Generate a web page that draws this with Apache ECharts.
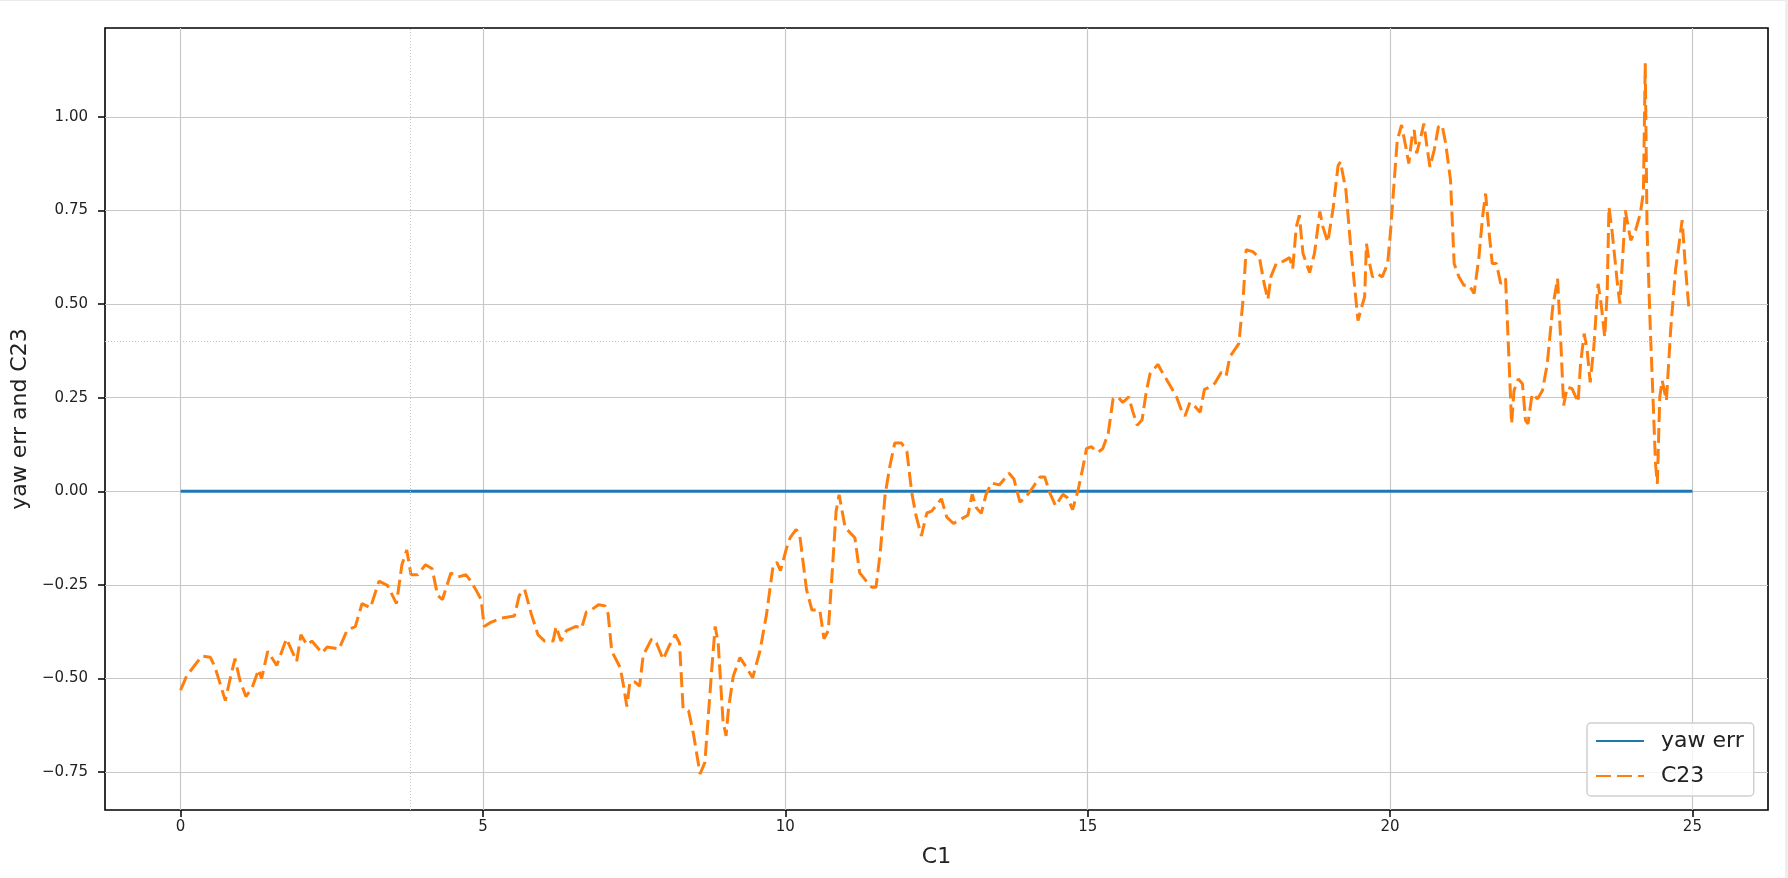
<!DOCTYPE html>
<html>
<head>
<meta charset="utf-8">
<script src="https://cdn.jsdelivr.net/npm/echarts@6/dist/echarts.min.js"></script>
<style>
html,body{margin:0;padding:0;background:#fff;}
#chart{width:1788px;height:878px;}
</style>
</head>
<body>
<div id="chart"></div>
<script>
// ---- data ----
const c23X = [0.00,0.10,0.35,0.49,0.57,0.74,0.82,0.90,0.98,1.08,1.18,1.29,1.34,1.44,1.59,1.75,1.92,1.99,2.09,2.17,2.34,2.42,2.62,2.75,2.89,3.00,3.14,3.28,3.42,3.57,3.66,3.74,3.81,3.92,4.05,4.16,4.25,4.33,4.47,4.58,4.72,4.80,4.88,4.97,5.02,5.13,5.30,5.52,5.60,5.69,5.80,5.91,6.02,6.16,6.21,6.29,6.38,6.54,6.63,6.71,6.79,6.91,7.02,7.07,7.13,7.27,7.32,7.38,7.43,7.51,7.59,7.65,7.79,7.87,7.98,8.07,8.18,8.25,8.31,8.40,8.48,8.59,8.67,8.78,8.84,8.89,8.97,9.02,9.06,9.14,9.25,9.36,9.46,9.58,9.69,9.80,9.86,9.92,10.02,10.08,10.18,10.24,10.35,10.44,10.49,10.57,10.64,10.71,10.77,10.84,10.89,10.99,11.15,11.23,11.34,11.43,11.50,11.57,11.65,11.73,11.81,11.92,12.01,12.09,12.16,12.25,12.34,12.42,12.53,12.58,12.67,12.78,12.91,13.02,13.09,13.16,13.24,13.32,13.41,13.54,13.70,13.78,13.88,13.99,14.10,14.21,14.29,14.37,14.47,14.59,14.67,14.75,14.84,14.92,14.98,15.06,15.17,15.25,15.34,15.42,15.50,15.58,15.68,15.74,15.82,15.90,15.97,16.03,16.16,16.25,16.36,16.47,16.55,16.61,16.69,16.77,16.86,16.93,17.02,17.10,17.21,17.29,17.35,17.46,17.50,17.57,17.62,17.73,17.84,17.92,17.98,18.03,18.12,18.23,18.34,18.39,18.45,18.50,18.56,18.67,18.75,18.84,18.89,18.97,19.06,19.14,19.18,19.27,19.35,19.47,19.53,19.58,19.61,19.65,19.71,19.79,19.87,19.96,20.01,20.07,20.12,20.19,20.26,20.31,20.37,20.40,20.44,20.51,20.56,20.61,20.66,20.73,20.80,20.86,20.92,21.00,21.06,21.14,21.22,21.31,21.39,21.47,21.53,21.58,21.64,21.69,21.76,21.83,21.91,21.97,22.01,22.05,22.12,22.19,22.24,22.28,22.35,22.44,22.52,22.60,22.69,22.77,22.82,22.87,22.93,23.01,23.11,23.15,23.21,23.26,23.31,23.37,23.44,23.49,23.55,23.59,23.62,23.67,23.76,23.80,23.86,23.89,23.98,24.06,24.14,24.19,24.22,24.25,24.30,24.36,24.39,24.42,24.46,24.50,24.57,24.64,24.72,24.78,24.83,24.88,24.94,25.00];
const c23Y = [-0.531,-0.493,-0.440,-0.443,-0.470,-0.559,-0.500,-0.447,-0.504,-0.548,-0.526,-0.476,-0.500,-0.427,-0.465,-0.394,-0.454,-0.383,-0.410,-0.400,-0.432,-0.416,-0.421,-0.372,-0.361,-0.300,-0.311,-0.240,-0.251,-0.300,-0.196,-0.157,-0.223,-0.223,-0.196,-0.207,-0.278,-0.289,-0.218,-0.229,-0.223,-0.240,-0.262,-0.289,-0.361,-0.350,-0.339,-0.333,-0.278,-0.262,-0.328,-0.383,-0.400,-0.400,-0.361,-0.400,-0.372,-0.361,-0.366,-0.322,-0.317,-0.303,-0.306,-0.328,-0.427,-0.471,-0.515,-0.575,-0.509,-0.509,-0.520,-0.438,-0.394,-0.405,-0.449,-0.416,-0.383,-0.405,-0.581,-0.586,-0.647,-0.755,-0.724,-0.482,-0.361,-0.405,-0.614,-0.653,-0.581,-0.493,-0.444,-0.471,-0.498,-0.427,-0.328,-0.196,-0.190,-0.212,-0.152,-0.124,-0.102,-0.119,-0.262,-0.317,-0.317,-0.317,-0.394,-0.372,-0.229,-0.053,-0.009,-0.097,-0.124,-0.218,-0.240,-0.256,-0.256,-0.163,-0.009,0.068,0.129,0.129,0.107,-0.003,-0.064,-0.119,-0.058,-0.053,-0.031,-0.020,-0.069,-0.086,-0.074,-0.064,-0.008,-0.044,-0.059,-0.008,0.022,0.017,0.048,0.033,-0.029,-0.013,0.012,0.038,0.038,-0.003,-0.039,-0.008,-0.018,-0.049,0.002,0.063,0.114,0.119,0.104,0.114,0.155,0.247,0.252,0.237,0.252,0.216,0.176,0.191,0.267,0.313,0.339,0.313,0.283,0.252,0.216,0.201,0.237,0.227,0.211,0.272,0.278,0.288,0.318,0.308,0.359,0.385,0.395,0.512,0.645,0.640,0.624,0.553,0.512,0.573,0.609,0.614,0.624,0.594,0.706,0.737,0.635,0.584,0.635,0.747,0.706,0.665,0.757,0.869,0.880,0.804,0.652,0.456,0.492,0.519,0.661,0.617,0.572,0.581,0.572,0.608,0.697,0.831,0.938,0.978,0.920,0.875,0.955,0.964,0.902,0.947,0.982,0.920,0.866,0.911,0.973,0.978,0.929,0.831,0.608,0.572,0.550,0.550,0.528,0.626,0.733,0.795,0.688,0.608,0.608,0.554,0.568,0.340,0.180,0.269,0.300,0.287,0.189,0.180,0.260,0.247,0.269,0.340,0.492,0.568,0.412,0.229,0.278,0.274,0.238,0.340,0.421,0.376,0.291,0.385,0.554,0.501,0.412,0.528,0.759,0.697,0.554,0.501,0.661,0.750,0.670,0.697,0.742,0.800,1.143,0.700,0.450,0.200,0.073,0.020,0.251,0.296,0.242,0.430,0.590,0.661,0.724,0.608,0.492,0.483];
const yawErrX = [0, 25];
const yawErrY = [0, 0];
const xTicks = [0, 5, 10, 15, 20, 25];
const yTicks = [-0.75, -0.5, -0.25, 0, 0.25, 0.5, 0.75, 1.0];
const cursorX = 3.8;
const cursorY = 0.395;
const seriesNames = ['yaw err', 'C23'];
const xLabel = 'C1';
const yLabel = 'yaw err and C23';

const pair = (xs, ys) => xs.map((x, i) => [x, ys[i]]);
const FONT = '"DejaVu Sans", sans-serif';
const fmtY = v => v.toFixed(2).replace('-', '\u2212');

const chart = echarts.init(document.getElementById('chart'), null, {renderer: 'canvas'});
chart.setOption({
  animation: false,
  backgroundColor: '#fff',
  textStyle: {fontFamily: FONT},
  graphic: [
    {type: 'rect', silent: true, shape: {x: 0, y: 0, width: 1788, height: 1}, style: {fill: '#ebebeb'}},
    {type: 'rect', silent: true, shape: {x: 1785, y: 0, width: 3, height: 878}, style: {fill: '#eeeeee'}}
  ],
  grid: {left: 105, top: 28, right: 20, bottom: 68, show: true, borderColor: '#000', borderWidth: 1.6, backgroundColor: 'transparent', containLabel: false},
  legend: {
    orient: 'vertical', left: 1587, top: 723,
    data: seriesNames,
    itemWidth: 48, itemHeight: 14, itemGap: 11,
    padding: [6, 10, 8, 8],
    backgroundColor: 'rgba(255,255,255,0.8)',
    borderColor: '#d0d0d0', borderWidth: 1.5, borderRadius: 4,
    itemStyle: {opacity: 0, color: 'rgba(0,0,0,0)', borderWidth: 0},
    textStyle: {fontFamily: FONT, fontSize: 22, color: '#222', padding: [0, 0, 0, 12], lineHeight: 24},
    selectedMode: false
  },
  xAxis: {
    type: 'value', min: -1.25, max: 26.25,
    name: xLabel, nameLocation: 'middle', nameGap: 36,
    nameTextStyle: {fontFamily: FONT, fontSize: 22, color: '#222'},
    axisLine: {show: false, onZero: false},
    axisTick: {show: true, customValues: xTicks, length: 7, lineStyle: {color: '#000', width: 1.5}},
    axisLabel: {customValues: xTicks, formatter: v => String(v), fontFamily: FONT, fontSize: 15, color: '#222', margin: 10},
    splitLine: {show: true, lineStyle: {color: '#c8c8c8', width: 1.2}}
  },
  yAxis: {
    type: 'value', min: -0.851, max: 1.237,
    name: yLabel, nameLocation: 'middle', nameGap: 74, nameRotate: 90,
    nameTextStyle: {fontFamily: FONT, fontSize: 22, color: '#222'},
    axisLine: {show: false, onZero: false},
    axisTick: {show: true, customValues: yTicks, length: 7, lineStyle: {color: '#000', width: 1.5}},
    axisLabel: {customValues: yTicks, formatter: v => fmtY(v), fontFamily: FONT, fontSize: 15, color: '#222', margin: 17},
    splitLine: {show: true, lineStyle: {color: '#c8c8c8', width: 1.2}}
  },
  series: [
    {
      name: seriesNames[0], type: 'line', data: pair(yawErrX, yawErrY),
      symbol: 'none', lineStyle: {color: '#1f77b4', width: 3}, itemStyle: {color: '#1f77b4'},
      z: 3,
      markLine: {
        silent: true, symbol: 'none', label: {show: false},
        lineStyle: {type: [1, 2], color: '#c4c4c4', width: 1},
        data: [{xAxis: cursorX}, {yAxis: cursorY}]
      }
    },
    {
      name: seriesNames[1], type: 'line', data: pair(c23X, c23Y),
      symbol: 'none', lineStyle: {color: '#ff7f0e', width: 3, type: [15, 6]}, itemStyle: {color: '#ff7f0e'},
      z: 4
    }
  ]
});
</script>
</body>
</html>
